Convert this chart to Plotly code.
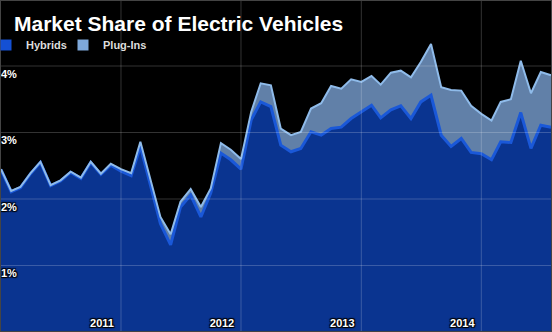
import pandas as pd
import plotly.graph_objects as go

# ---- data (share of US light-vehicle sales, %) ----
months = pd.date_range("2010-01-01", periods=56, freq="MS")

hybrids = [2.44, 2.11, 2.17, 2.38, 2.55, 2.20, 2.27, 2.40, 2.31, 2.55, 2.37, 2.51,
           2.42, 2.35, 2.79, 2.22, 1.63, 1.31, 1.88, 2.06, 1.73, 2.09, 2.69, 2.59,
           2.45, 3.19, 3.46, 3.39, 2.81, 2.71, 2.76, 3.01, 2.96, 3.06, 3.08, 3.21,
           3.31, 3.41, 3.22, 3.34, 3.40, 3.21, 3.46, 3.56, 2.96, 2.79, 2.91, 2.70,
           2.68, 2.59, 2.86, 2.85, 3.30, 2.76, 3.11, 3.08]

plug_ins = [0.01, 0.01, 0.01, 0.01, 0.01, 0.01, 0.01, 0.01, 0.01, 0.01, 0.01, 0.02,
            0.03, 0.04, 0.07, 0.08, 0.10, 0.16, 0.08, 0.09, 0.15, 0.07, 0.15, 0.15,
            0.15, 0.12, 0.28, 0.32, 0.25, 0.25, 0.25, 0.35, 0.48, 0.64, 0.58, 0.59,
            0.45, 0.44, 0.50, 0.56, 0.53, 0.62, 0.60, 0.77, 0.72, 0.85, 0.72, 0.70,
            0.60, 0.59, 0.60, 0.65, 0.78, 0.83, 0.80, 0.78]

year_ticks = ["2011-01-01", "2012-01-01", "2013-01-01", "2014-01-01"]
year_labels = ["2011", "2012", "2013", "2014"]
pct_ticks = [1, 2, 3, 4]
pct_labels = ["1%", "2%", "3%", "4%"]

HYB_FILL = "#0a3490"
HYB_LINE = "#1a58d8"
PLUG_FILL = "#6180a8"
PLUG_LINE = "#8fbbea"

fig = go.Figure()

fig.add_trace(go.Scatter(
    x=months, y=hybrids, name="Hybrids", stackgroup="one", mode="lines",
    fillcolor=HYB_FILL, line=dict(color=HYB_LINE, width=3), showlegend=False,
))
fig.add_trace(go.Scatter(
    x=months, y=plug_ins, name="Plug-Ins", stackgroup="one", mode="lines",
    fillcolor=PLUG_FILL, line=dict(color=PLUG_LINE, width=2), showlegend=False,
))

# legend entries (square swatches)
fig.add_trace(go.Scatter(x=[None], y=[None], mode="markers", name="Hybrids",
                         legendwidth=32,
                         marker=dict(symbol="square", size=11, color="#1450d4")))
fig.add_trace(go.Scatter(x=[None], y=[None], mode="markers", name="Plug-Ins",
                         legendwidth=60,
                         marker=dict(symbol="square", size=11, color="#7ea8da")))

grid_col = "rgba(255,255,255,0.2)"
shapes = []
for t in year_ticks:
    shapes.append(dict(type="line", xref="x", yref="paper", x0=t, x1=t, y0=0, y1=1,
                       line=dict(color=grid_col, width=1), layer="above"))
for v in pct_ticks:
    shapes.append(dict(type="line", xref="paper", yref="y", x0=0, x1=1, y0=v, y1=v,
                       line=dict(color=grid_col, width=1), layer="above"))
shapes.append(dict(type="rect", xref="paper", yref="paper", x0=0, x1=1, y0=0, y1=1,
                   line=dict(color="#444444", width=2), layer="above"))

lab_font = dict(family="Liberation Sans, Arial, sans-serif", size=11, color="white",
                weight="bold",
                shadow="1px 1px 1px black, -1px -1px 1px black, 1px -1px 1px black, -1px 1px 1px black")

fig.update_layout(
    width=552, height=332,
    margin=dict(l=0, r=0, t=0, b=0, autoexpand=False),
    paper_bgcolor="black", plot_bgcolor="black",
    shapes=shapes,
    title=dict(text="Market Share of Electric Vehicles",
               font=dict(family="Liberation Sans, Arial, sans-serif", size=21,
                         color="white", weight="bold"),
               xref="container", x=14 / 552, xanchor="left",
               yref="container", y=1 - 16 / 332, yanchor="top"),
    legend=dict(orientation="h", x=-14 / 552, xanchor="left",
                y=1 - 45 / 332, yanchor="middle", traceorder="normal",
                bgcolor="rgba(0,0,0,0)", borderwidth=0,
                font=dict(family="Liberation Sans, Arial, sans-serif", size=11,
                          color="#dddddd", weight="bold"),
                itemclick=False),
    xaxis=dict(type="date", range=["2009-12-29", "2014-08-04"],
               showgrid=False, zeroline=False, showline=False, automargin=False,
               tickvals=year_ticks, ticktext=year_labels,
               ticks="", ticklabelposition="inside", ticklabelshift=-19,
               tickfont=lab_font),
    yaxis=dict(range=[0, 332 / 66.5], showgrid=False, zeroline=False, showline=False,
               automargin=False,
               tickvals=pct_ticks, ticktext=pct_labels,
               ticks="", ticklabelposition="inside bottom", ticklabelstandoff=-2,
               tickfont=lab_font),
    hovermode=False,
)

fig.write_html("out.html")
